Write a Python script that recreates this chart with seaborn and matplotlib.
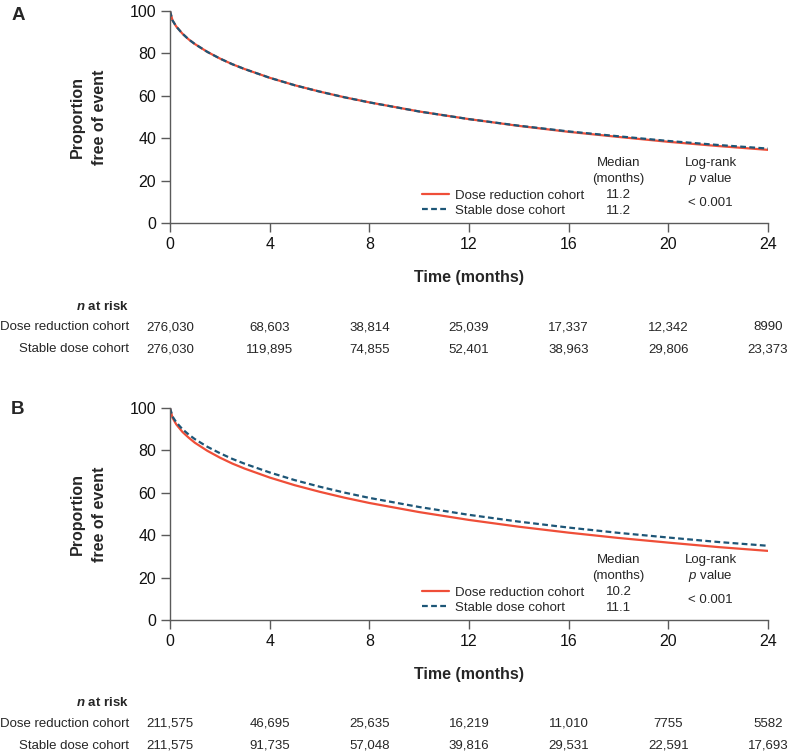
import matplotlib
matplotlib.use("Agg")
import matplotlib.pyplot as plt
from matplotlib.lines import Line2D
from matplotlib.transforms import blended_transform_factory
import pandas as pd
import seaborn as sns

months = [0, 0.1, 0.25, 0.5, 0.75, 1, 1.5, 2, 2.5, 3, 4, 5, 6, 7, 8, 10, 12, 14, 16, 18, 20, 22, 24]

# panel A (% free of event)
a_reduction = [100, 95.6, 92.7, 89.3, 86.6, 84.4, 80.7, 77.6, 74.9, 72.6, 68.5, 65.0, 62.0, 59.3,
               56.9, 52.6, 49.0, 45.8, 43.0, 40.6, 38.3, 36.3, 34.5]
a_stable = [100, 95.6, 92.7, 89.3, 86.6, 84.4, 80.7, 77.6, 74.9, 72.6, 68.5, 65.0, 62.0, 59.3,
            56.9, 52.6, 49.0, 45.9, 43.2, 40.9, 38.7, 36.8, 35.1]
# panel B (% free of event)
b_reduction = [100, 95.4, 92.3, 88.7, 86.0, 83.6, 79.8, 76.6, 73.8, 71.4, 67.2, 63.6, 60.5, 57.7,
               55.2, 50.9, 47.2, 44.0, 41.2, 38.7, 36.5, 34.4, 32.6]
b_stable = [100, 96.0, 93.3, 90.0, 87.5, 85.3, 81.7, 78.7, 76.0, 73.7, 69.6, 66.0, 62.9, 60.1,
            57.6, 53.3, 49.6, 46.4, 43.6, 41.1, 38.9, 36.8, 35.0]

cohorts = ["Dose reduction cohort", "Stable dose cohort"]
medians_a = ["11.2", "11.2"]
medians_b = ["10.2", "11.1"]
pvalue = "< 0.001"

risk_times = [0, 4, 8, 12, 16, 20, 24]
risk_a = [["276,030", "68,603", "38,814", "25,039", "17,337", "12,342", "8990"],
          ["276,030", "119,895", "74,855", "52,401", "38,963", "29,806", "23,373"]]
risk_b = [["211,575", "46,695", "25,635", "16,219", "11,010", "7755", "5582"],
          ["211,575", "91,735", "57,048", "39,816", "29,531", "22,591", "17,693"]]

RED = "#EF4E38"
BLUE = "#1D5677"
GREY = "#5a5a5a"
FS = 9.5

sns.set_theme(style="ticks")
plt.rcParams["font.family"] = ["Liberation Sans", "DejaVu Sans"]
plt.rcParams["mathtext.fontset"] = "custom"
plt.rcParams["mathtext.rm"] = "Liberation Sans"
plt.rcParams["mathtext.it"] = "Liberation Sans:italic"
plt.rcParams["mathtext.bfit"] = "Liberation Sans:italic:bold"

fig = plt.figure(figsize=(7.89, 7.53), dpi=100)
H = 753.0


def panel(ax_rect, red, blue, medians, risk, letter, letter_y):
    ax = fig.add_axes(ax_rect)
    df = pd.DataFrame({
        "time": months * 2,
        "pct": red + blue,
        "cohort": [cohorts[0]] * len(months) + [cohorts[1]] * len(months),
    })
    sns.lineplot(data=df, x="time", y="pct", hue="cohort", style="cohort",
                 palette={cohorts[0]: RED, cohorts[1]: BLUE},
                 dashes={cohorts[0]: "", cohorts[1]: (2.6, 1.5)},
                 linewidth=1.6, legend=False, ax=ax)
    ax.set_xlim(0, 24)
    ax.set_ylim(0, 100)
    ax.set_xticks(risk_times)
    ax.set_yticks([0, 20, 40, 60, 80, 100])
    sns.despine(ax=ax)
    for s in ("left", "bottom"):
        ax.spines[s].set_color(GREY)
        ax.spines[s].set_linewidth(1.0)
    ax.tick_params(length=6.5, width=1.0, color=GREY, labelsize=11.5,
                   labelcolor="#111111", pad=3.5)
    ax.set_ylabel("Proportion\nfree of event", fontsize=11.5, fontweight="bold",
                  linespacing=1.55)
    ax.yaxis.set_label_coords(-0.106, 0.5)
    ax.set_xlabel("Time (months)", fontsize=11.5, fontweight="bold")
    ax.xaxis.set_label_coords(0.5, -47 / 212)

    handles = [Line2D([], [], color=RED, lw=1.6),
               Line2D([], [], color=BLUE, lw=1.6, dashes=(2.6, 1.5))]
    ax.legend(handles, cohorts, loc="center left", bbox_to_anchor=(0.421, 0.093),
              frameon=False, fontsize=FS, handlelength=2.1, handletextpad=0.4,
              labelspacing=0.2, borderpad=0, borderaxespad=0)
    ax.text(18.0, 28.3, "Median", ha="center", va="center", fontsize=FS)
    ax.text(18.0, 20.7, "(months)", ha="center", va="center", fontsize=FS)
    ax.text(18.0, 13.0, medians[0], ha="center", va="center", fontsize=FS)
    ax.text(18.0, 5.5, medians[1], ha="center", va="center", fontsize=FS)
    ax.text(21.7, 28.3, "Log-rank", ha="center", va="center", fontsize=FS)
    ax.text(21.7, 20.7, r"$p$ value", ha="center", va="center", fontsize=FS)
    ax.text(21.7, 9.6, pvalue, ha="center", va="center", fontsize=FS)

    # n at risk table under the axis
    spine_px = H * (1 - ax_rect[1])
    bt = blended_transform_factory(ax.transData, fig.transFigure)
    fy = lambda off: 1 - (spine_px + off) / H
    ax.text(-1.65, fy(83), r"$\mathbfit{n}$ at risk", transform=bt, ha="right",
            va="center", fontsize=FS, fontweight="bold", clip_on=False)
    for r, off in enumerate([104, 126]):
        ax.text(-1.65, fy(off), cohorts[r], transform=bt, ha="right",
                va="center", fontsize=FS, clip_on=False)
        for t, val in zip(risk_times, risk[r]):
            ax.text(t, fy(off), val, transform=bt, ha="center", va="center",
                    fontsize=FS, clip_on=False)

    fig.text(18 / 789, 1 - letter_y / H, letter, fontsize=13.5, fontweight="bold",
             ha="center", va="center")
    return ax


panel([170 / 789, 1 - 223 / H, 598 / 789, 212 / H], a_reduction, a_stable,
      medians_a, risk_a, "A", 15)
panel([170 / 789, 1 - 620 / H, 598 / 789, 212 / H], b_reduction, b_stable,
      medians_b, risk_b, "B", 410)

fig.savefig("out.png", dpi=100)
